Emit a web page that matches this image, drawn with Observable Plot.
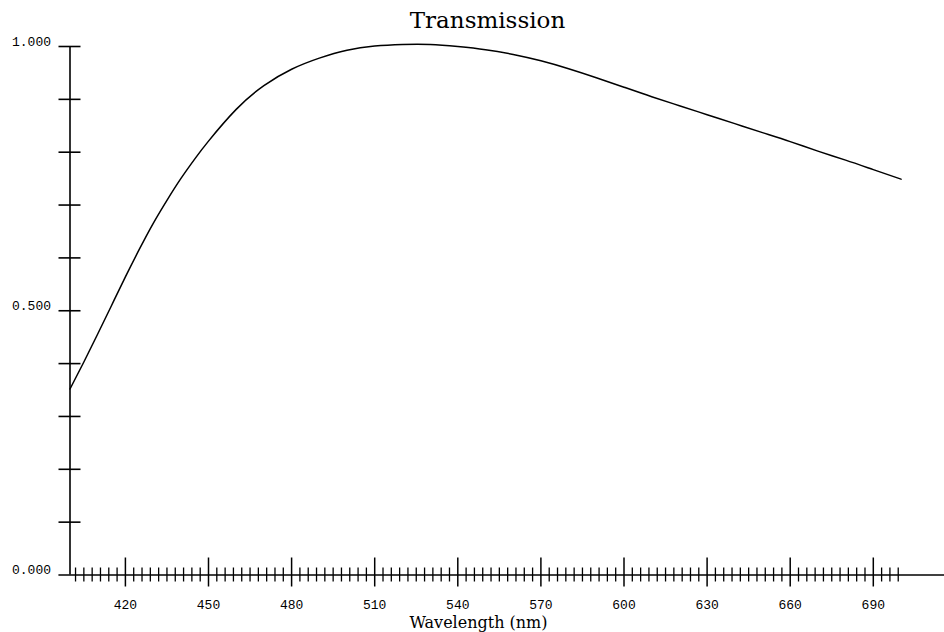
<!DOCTYPE html>
<html><head><meta charset="utf-8">
<script src="https://cdn.jsdelivr.net/npm/d3@7"></script>
<script src="https://cdn.jsdelivr.net/npm/@observablehq/plot@0.6"></script>
<style>body{margin:0;background:#fff}</style>
</head><body><div id="chart"></div>
<script>
const titleText = "Transmission";
const xLabelText = "Wavelength (nm)";
const wavelength = [400,405,410,415,420,425,430,435,440,445,450,460,470,480,490,500,510,520,530,540,550,560,570,580,590,600,610,620,630,640,650,660,670,680,690,700];
const transmission = [0.352,0.403,0.456,0.510,0.564,0.616,0.665,0.709,0.750,0.787,0.821,0.881,0.926,0.957,0.978,0.993,1.001,1.004,1.004,1.000,0.994,0.985,0.973,0.958,0.941,0.923,0.905,0.888,0.871,0.854,0.837,0.820,0.802,0.785,0.767,0.749];
const xMajorTicks = [420,450,480,510,540,570,600,630,660,690];
const xMinorTicks = d3.range(402, 700, 3).filter(t => !xMajorTicks.includes(t));
const yTicks = [0.1,0.2,0.3,0.4,0.5,0.6,0.7,0.8,0.9,1.0];
const yLabelTicks = [0, 0.5, 1];
const xDomain = [400, 700];
const xAxisExtent = [396, 716];

const data = wavelength.map((w, i) => ({w, t: transmission[i]}));
const blank = () => "";

const chart = Plot.plot({
  width: 944,
  height: 632,
  marginLeft: 69.5,
  marginRight: 43.5,
  marginTop: 46,
  marginBottom: 57.5,
  style: {fontFamily: "Liberation Mono", fontSize: "13px", background: "white", color: "black"},
  x: {domain: xDomain, label: null},
  y: {domain: [0, 1], label: null},
  marks: [
    Plot.ruleY([0], {x1: xAxisExtent[0], x2: xAxisExtent[1], strokeWidth: 1.6}),
    Plot.ruleX([xDomain[0]], {y1: 0, y2: 1, strokeWidth: 1.6}),
    Plot.axisY({ticks: yTicks, tickSize: 22, dx: 11, tickFormat: blank, strokeWidth: 1.6, label: null}),
    Plot.axisY({ticks: yLabelTicks, tickSize: 0, tickPadding: 19, tickFormat: d3.format(".3f"), dy: -5, label: null}),
    Plot.axisX({ticks: xMajorTicks, tickSize: 29, dy: -17, tickFormat: blank, strokeWidth: 1.5, label: null}),
    Plot.axisX({ticks: xMinorTicks, tickSize: 14, dy: -7, tickFormat: blank, strokeWidth: 1.3, label: null}),
    Plot.axisX({ticks: xMajorTicks, tickSize: 0, tickPadding: 25, tickFormat: d => String(d), label: null}),
    Plot.line(data, {x: "w", y: "t", curve: "natural", stroke: "black", strokeWidth: 1.5}),
    Plot.text([titleText], {frameAnchor: "top", lineAnchor: "bottom", dy: -19, dx: 2, fontFamily: "DejaVu Serif", fontSize: 23, text: d => d}),
    Plot.text([xLabelText], {frameAnchor: "bottom", lineAnchor: "bottom", dy: 53, dx: -7, fontFamily: "DejaVu Serif", fontSize: 16, text: d => d})
  ]
});
document.getElementById("chart").appendChild(chart);
</script>
</body></html>
